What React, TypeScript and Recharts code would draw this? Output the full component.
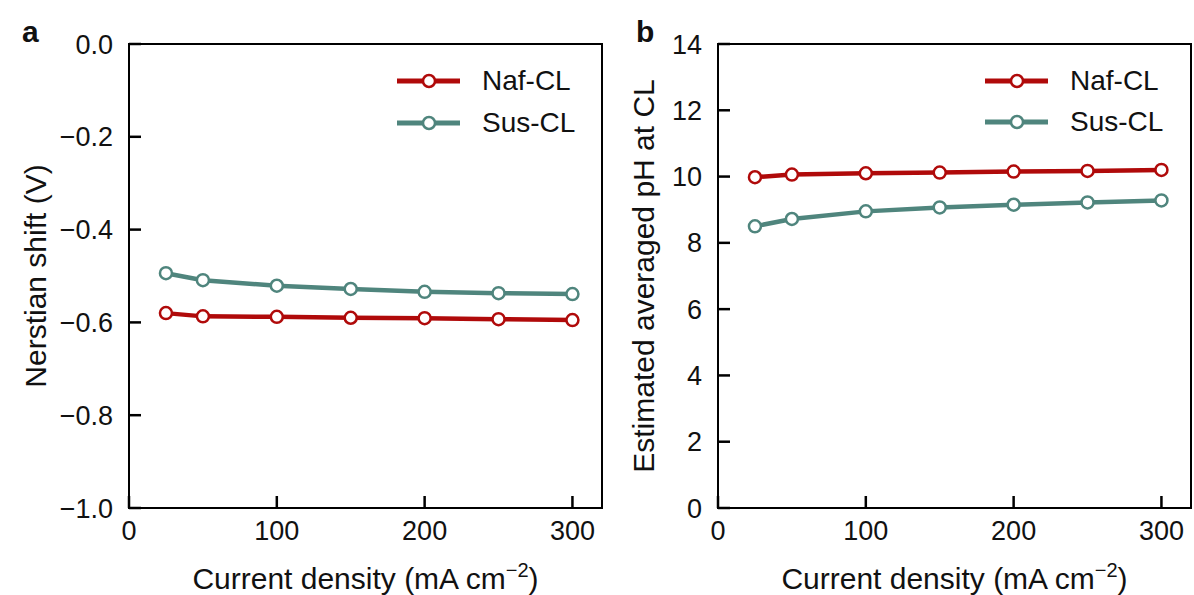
import React from "react";
import {
  LineChart,
  Line,
  XAxis,
  YAxis,
  Legend,
  Label,
  ReferenceArea,
} from "recharts";

const currents = [25, 50, 100, 150, 200, 250, 300];
const nafShift = [-0.58, -0.587, -0.588, -0.59, -0.591, -0.593, -0.595];
const susShift = [-0.494, -0.509, -0.521, -0.528, -0.534, -0.537, -0.539];
const nafPh = [9.98, 10.06, 10.1, 10.12, 10.15, 10.17, 10.2];
const susPh = [8.5, 8.72, 8.95, 9.07, 9.15, 9.22, 9.28];
const xTicks = [0, 100, 200, 300];
const shiftTicks = [0, -0.2, -0.4, -0.6, -0.8, -1.0];
const phTicks = [0, 2, 4, 6, 8, 10, 12, 14];

const RED = "#b00a0a";
const TEAL = "#4f857d";
const FONT = "'Liberation Sans', Arial, sans-serif";
const X_MAX = 320;

const shiftData = currents.map((c, i) => ({ c, naf: nafShift[i], sus: susShift[i] }));
const phData = currents.map((c, i) => ({ c, naf: nafPh[i], sus: susPh[i] }));

const fmtShift = (v: number) => v.toFixed(1).replace("-", "\u2212");
const fmtPh = (v: number) => String(v);

const tickStyle = { fontSize: 27, fill: "#111", fontFamily: FONT };

const xTitle = (props: any) => {
  const { viewBox } = props;
  const cx = viewBox.x + viewBox.width / 2;
  return (
    <text x={cx} y={viewBox.y + 81} textAnchor="middle" fontSize={30} fontFamily={FONT} fill="#111">
      Current density (mA cm
      <tspan dy={-12} fontSize={20}>−2</tspan>
      <tspan dy={12}>)</tspan>
    </text>
  );
};

const yTitle = (text: string, dx: number) => (props: any) => {
  const { viewBox } = props;
  const cy = viewBox.y + viewBox.height / 2;
  const x = viewBox.x + dx;
  return (
    <text
      x={x}
      y={cy}
      transform={`rotate(-90, ${x}, ${cy})`}
      textAnchor="middle"
      dy="0.35em"
      fontSize={30}
      fontFamily={FONT}
      fill="#111"
    >
      {text}
    </text>
  );
};

const LegendBox = ({ gap }: { gap: number }) => (
  <div style={{ fontFamily: FONT, fontSize: 28, color: "#111", lineHeight: 1 }}>
    {[
      { name: "Naf-CL", color: RED },
      { name: "Sus-CL", color: TEAL },
    ].map((e) => (
      <div key={e.name} style={{ display: "flex", alignItems: "center", height: gap }}>
        <svg width={87} height={20} style={{ display: "block" }}>
          <line x1={2} x2={65} y1={10} y2={10} stroke={e.color} strokeWidth={5} />
          <circle cx={34} cy={10} r={6} fill="#fff" stroke={e.color} strokeWidth={2.5} />
        </svg>
        <span>{e.name}</span>
      </div>
    ))}
  </div>
);

function Panel({
  data,
  width,
  yWidth,
  rightMargin,
  domain,
  ticks,
  fmt,
  title,
  titleDx,
  legendLeft,
  legendGap,
  letter,
  letterX,
}: any) {
  return (
    <div style={{ position: "relative", width, height: 595 }}>
      <LineChart
        width={width}
        height={595}
        data={data}
        margin={{ top: 44, right: rightMargin, bottom: 0, left: 0 }}
      >
        <ReferenceArea
          x1={0}
          x2={X_MAX}
          y1={domain[0]}
          y2={domain[1]}
          fill="none"
          fillOpacity={0}
          stroke="#000"
          strokeWidth={2}
          ifOverflow="visible"
        />
        <XAxis
          dataKey="c"
          type="number"
          domain={[0, X_MAX]}
          ticks={xTicks}
          tickSize={-12}
          tickMargin={25}
          tick={tickStyle}
          height={87}
          stroke="#000"
          axisLine={{ stroke: "#000", strokeWidth: 2 }}
          tickLine={{ stroke: "#000", strokeWidth: 2.5 }}
        >
          <Label content={xTitle} />
        </XAxis>
        <YAxis
          type="number"
          domain={domain}
          ticks={ticks}
          tickSize={-12}
          tickMargin={28}
          tick={tickStyle}
          tickFormatter={fmt}
          width={yWidth}
          stroke="#000"
          axisLine={{ stroke: "#000", strokeWidth: 2 }}
          tickLine={{ stroke: "#000", strokeWidth: 2.5 }}
          interval={0}
        >
          <Label content={yTitle(title, titleDx)} />
        </YAxis>
        <Legend
          layout="vertical"
          align="center"
          verticalAlign="middle"
          content={() => <LegendBox gap={legendGap} />}
          wrapperStyle={{ position: "absolute", top: 60, left: legendLeft, width: 220 }}
        />
        <Line
          dataKey="sus"
          stroke={TEAL}
          strokeWidth={4.5}
          dot={{ r: 6, fill: "#fff", stroke: TEAL, strokeWidth: 2.5 }}
          isAnimationActive={false}
        />
        <Line
          dataKey="naf"
          stroke={RED}
          strokeWidth={4.5}
          dot={{ r: 6, fill: "#fff", stroke: RED, strokeWidth: 2.5 }}
          isAnimationActive={false}
        />
      </LineChart>
      <div
        style={{
          position: "absolute",
          left: letterX,
          top: 15,
          fontFamily: FONT,
          fontWeight: "bold",
          fontSize: 30,
          color: "#111",
        }}
      >
        {letter}
      </div>
    </div>
  );
}

export default function App() {
  return (
    <div style={{ position: "absolute", left: 0, top: 0, width: 1194, height: 595, background: "#fff", display: "flex" }}>
      <Panel
        data={shiftData}
        width={608}
        yWidth={129}
        rightMargin={6}
        domain={[-1, 0]}
        ticks={shiftTicks}
        fmt={fmtShift}
        title="Nerstian shift (V)"
        titleDx={35}
        legendLeft={395}
        legendGap={42}
        letter="a"
        letterX={22}
      />
      <Panel
        data={phData}
        width={586}
        yWidth={110}
        rightMargin={3}
        domain={[0, 14]}
        ticks={phTicks}
        fmt={fmtPh}
        title="Estimated averaged pH at CL"
        titleDx={35}
        legendLeft={375}
        legendGap={41}
        letter="b"
        letterX={28}
      />
    </div>
  );
}
